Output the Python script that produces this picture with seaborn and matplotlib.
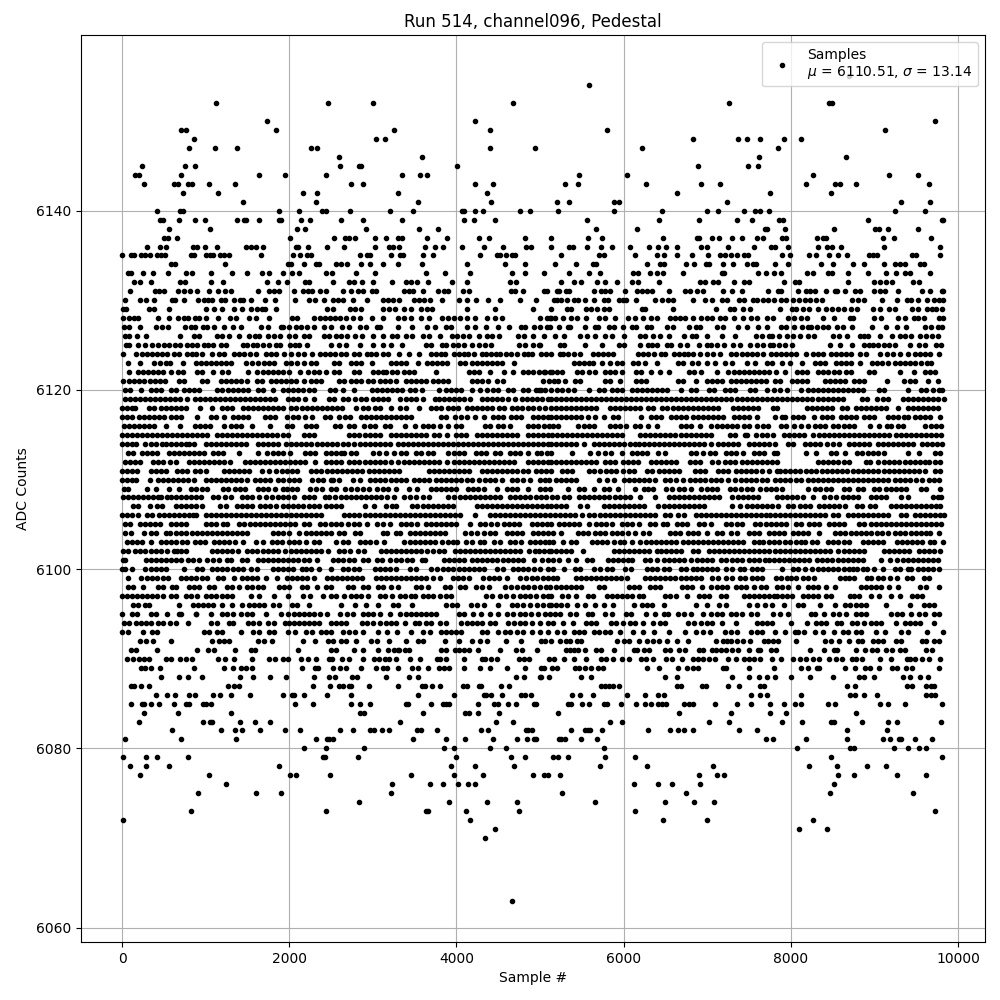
import matplotlib
matplotlib.use("Agg")
import matplotlib.pyplot as plt
import pandas as pd
import seaborn as sns

# samples, one list per ADC level
adc_6155 = [8697]
adc_6154 = [5581]
adc_6152 = [1128, 2467, 3005, 4678, 7264, 8458, 8494]
adc_6150 = [1737, 4224, 9724]
adc_6149 = [709, 769, 1845, 3256, 4403, 5795, 9127]
adc_6148 = [865, 3041, 3148, 6834, 7371, 7479, 7634, 7921, 8124]
adc_6147 = [805, 1116, 1379, 2263, 2335, 4403, 4941, 6225, 7849]
adc_6146 = [2598, 3591, 7622, 8661]
adc_6145 = [243, 757, 877, 2610, 2837, 2857, 4009, 6894, 7491, 7610]
adc_6144 = [159, 207, 709, 1642, 1953, 2443, 3351, 3567, 3650, 5461, 6034, 8267, 9174, 9521]
adc_6143 = [267, 626, 665, 793, 841, 1044, 1355, 2742, 2885, 4224, 4439, 5294, 5449, 6273, 6930, 7157, 8183, 8530, 8589, 8780, 9652]
adc_6142 = [733, 1152, 2168, 2335, 3304, 4367, 6643, 7754, 8482]
adc_6141 = [1451, 2323, 3543, 4415, 5198, 5342, 5879, 5939, 7240, 9318, 9664]
adc_6140 = [422, 697, 733, 1881, 2120, 2395, 2443, 2730, 3208, 3483, 4069, 4093, 4224, 4320, 4762, 4882, 5210, 5879, 6464, 7001, 7133, 7443, 7574, 7634, 7742, 9246, 9604]
adc_6139 = [458, 494, 685, 877, 996, 1379, 1463, 1487, 1642, 1881, 1901, 2144, 2252, 2622, 2885, 3351, 4093, 4213, 4463, 5557, 6428, 6906, 7360, 7539, 7861, 7909, 8924, 9804, 9819]
adc_6138 = [566, 1056, 2096, 2192, 2921, 3555, 3782, 5664, 6154, 7694, 7718, 7933, 8518, 9007, 9054, 9162, 9521]
adc_6137 = [506, 546, 661, 2012, 2538, 2670, 2718, 2789, 3028, 3160, 3304, 3344, 3650, 3889, 4272, 4392, 4822, 5127, 5569, 5736, 6476, 6876, 6900, 7061, 7145, 7300, 7419, 7598, 7670, 7897, 7945, 8315, 8387, 8423, 9103, 9234, 9676]
adc_6136 = [303, 458, 530, 853, 900, 996, 1136, 1486, 1546, 1605, 1689, 2084, 2108, 2227, 2454, 2658, 3028, 3196, 3244, 3315, 3621, 3741, 3837, 4069, 4332, 4555, 4826, 4886, 5127, 5342, 5390, 5557, 5723, 5855, 6070, 6309, 6408, 6512, 6643, 6930, 7001, 7252, 7562, 7765, 7813, 7968, 8327, 8435, 8494, 8601, 9115, 9784]
adc_6135 = [4, 107, 147, 231, 279, 339, 422, 466, 518, 828, 865, 1008, 1056, 1092, 1176, 1224, 1283, 1666, 2048, 2132, 2216, 2263, 2845, 2929, 2965, 3220, 3324, 3360, 3603, 3723, 4280, 4490, 4515, 4587, 4659, 4706, 5246, 5711, 5759, 6130, 6404, 6488, 6643, 6823, 7013, 7157, 7216, 7280, 7351, 7435, 7489, 7895, 7988, 8219, 8303, 8458, 8570, 8676, 8936, 8983, 9031, 9449, 9498, 9784]
adc_6134 = [590, 630, 1235, 1990, 2024, 2180, 2323, 2359, 2562, 2622, 2694, 2861, 2969, 3124, 3304, 3591, 4120, 4583, 4822, 5175, 5425, 5629, 5675, 6285, 6440, 6488, 6751, 6847, 6990, 7025, 7188, 7311, 7479, 7546, 7582, 7813, 7969, 8363, 8506, 8745, 8876, 9115, 9246, 9305, 9369, 9545, 9593]
adc_6133 = [76, 112, 255, 375, 554, 769, 841, 1068, 1319, 1498, 1678, 1762, 1929, 2036, 2120, 2443, 2514, 2801, 3028, 3635, 3862, 4164, 4670, 4825, 5043, 5342, 5590, 5712, 6112, 6172, 6313, 6396, 6476, 6715, 7180, 7204, 7607, 7702, 7802, 7881, 8195, 8267, 8442, 8498, 8689, 8920, 9143, 9260, 9365, 9420, 9660]
adc_6132 = [147, 219, 350, 697, 757, 1068, 1211, 1737, 1868, 1976, 2192, 2239, 2527, 2719, 2779, 2869, 3005, 3232, 3399, 3459, 3531, 3662, 3949, 4129, 4642, 4714, 5254, 5401, 5485, 5677, 5771, 5926, 6094, 6166, 6428, 6914, 6968, 7071, 7132, 7324, 7444, 7502, 7920, 8052, 8100, 8685, 9000, 9072, 9144, 9216, 9462, 9531]
adc_6131 = [100, 399, 447, 506, 673, 745, 817, 901, 1044, 1152, 1236, 1307, 1622, 1761, 1821, 1881, 2060, 2168, 2220, 2276, 2371, 2443, 2646, 2741, 2825, 2885, 2993, 3041, 3375, 3435, 3483, 3603, 3782, 3854, 3896, 4081, 4153, 4650, 4705, 4800, 5049, 5085, 5199, 5222, 5306, 5342, 5640, 5723, 5778, 5838, 6022, 6165, 6225, 6285, 6343, 6547, 6736, 6796, 6881, 6955, 7193, 7300, 7420, 7730, 7850, 7885, 8087, 8181, 8226, 8292, 8419, 8530, 8554, 8649, 8768, 8828, 8996, 9066, 9130, 9276, 9567, 9660, 9807, 9819]
adc_6130 = [40, 219, 291, 386, 602, 638, 745, 913, 984, 1032, 1080, 1188, 1236, 1343, 1415, 1451, 1546, 1714, 1833, 2072, 2240, 2312, 2419, 2527, 2587, 2647, 2766, 2932, 3124, 3184, 3244, 3316, 3495, 3555, 3615, 3687, 3826, 4033, 4129, 4236, 4380, 4523, 4764, 4948, 5162, 5199, 5246, 5318, 5401, 5450, 5533, 5640, 5761, 5807, 5949, 5990, 6028, 6142, 6380, 6464, 6525, 6595, 6835, 6977, 7061, 7181, 7240, 7384, 7444, 7550, 7600, 7665, 7724, 7793, 7885, 7945, 8025, 8100, 8175, 8233, 8301, 8372, 8733, 8805, 8876, 9092, 9266, 9390, 9439, 9516, 9634, 9717, 9771, 9819]
adc_6129 = [16, 52, 327, 386, 566, 1008, 1104, 1199, 1339, 1438, 1546, 1610, 1670, 1714, 1845, 2454, 2526, 2721, 2781, 2853, 3117, 3189, 3261, 3375, 3459, 3579, 3651, 3710, 4129, 4456, 4912, 5127, 5327, 5366, 5546, 5604, 5676, 5767, 5821, 6225, 6260, 6595, 7109, 7276, 7324, 7431, 7515, 7873, 8013, 8061, 8140, 8215, 8328, 8417, 8487, 8568, 8637, 8724, 8792, 8987, 9066, 9180, 9250, 9450, 9524, 9624, 9685, 9732, 9810]
adc_6128 = [16, 88, 147, 195, 434, 566, 673, 745, 793, 877, 925, 1008, 1152, 1295, 1367, 1522, 1606, 1761, 2036, 2096, 2299, 2371, 2431, 2491, 2551, 2610, 2682, 2766, 2850, 2989, 3124, 3295, 3375, 3455, 3575, 3674, 3822, 3895, 3975, 4047, 4129, 4218, 4366, 4463, 4550, 5000, 5079, 5119, 5134, 5175, 5270, 5370, 5447, 5549, 5700, 5780, 5900, 6050, 6130, 6231, 6330, 6400, 6550, 6615, 6670, 6730, 6825, 6920, 7000, 7060, 7150, 7210, 7320, 7427, 7520, 7600, 7710, 7790, 7969, 8040, 8120, 8198, 8380, 8520, 8702, 8738, 9000, 9078, 9279, 9363, 9475, 9520, 9595, 9770, 9820]
adc_6127 = [28, 88, 219, 411, 482, 554, 757, 829, 877, 972, 1020, 1104, 1223, 1331, 1427, 1667, 1750, 1895, 1930, 2000, 2075, 2145, 2215, 2296, 2410, 2494, 2630, 2718, 2846, 2921, 3049, 3080, 3300, 3467, 3647, 3743, 3871, 3930, 4121, 4216, 4350, 4496, 4634, 4777, 4824, 4925, 5000, 5083, 5122, 5227, 5334, 5364, 5535, 5662, 5692, 5820, 5880, 5995, 6100, 6145, 6275, 6330, 6520, 6590, 6780, 6860, 6912, 7116, 7192, 7365, 7470, 7607, 7720, 7888, 7947, 8040, 8130, 8211, 8247, 8318, 8390, 8440, 8550, 8620, 8735, 8976, 9140, 9266, 9375, 9600, 9680, 9760, 9805]
adc_6126 = [40, 88, 183, 291, 697, 865, 925, 1139, 1199, 1283, 1402, 1522, 1594, 1642, 1749, 1821, 1893, 2000, 2072, 2180, 2239, 2419, 2479, 2562, 2622, 2694, 2781, 2866, 3000, 3116, 3224, 3291, 3400, 3472, 3595, 3672, 3800, 3950, 4009, 4081, 4153, 4268, 4364, 4423, 4513, 4740, 4813, 4912, 5043, 5183, 5282, 5473, 5557, 5652, 5779, 5860, 6010, 6200, 6254, 6350, 6439, 6540, 6720, 6822, 6870, 7000, 7180, 7332, 7580, 7650, 7735, 7780, 7860, 7953, 8027, 8110, 8200, 8280, 8508, 8572, 8674, 8830, 8870, 8924, 9070, 9216, 9300, 9365, 9439, 9545, 9620, 9690, 9760]
adc_6125 = [52, 88, 195, 279, 362, 434, 506, 566, 638, 697, 781, 841, 901, 980, 1032, 1092, 1180, 1243, 1450, 1490, 1570, 1619, 1690, 1760, 1840, 1884, 2012, 2072, 2120, 2215, 2502, 2590, 2673, 2850, 3005, 3116, 3220, 3351, 3630, 3690, 3830, 3870, 3960, 4024, 4090, 4180, 4275, 4345, 4412, 4750, 4820, 4912, 4983, 5000, 5235, 5284, 5540, 5740, 5948, 6007, 6190, 6290, 6335, 6400, 6520, 6570, 6670, 6760, 6900, 6998, 7040, 7120, 7200, 7312, 7390, 7510, 7590, 7671, 7745, 7791, 7855, 7930, 8018, 8470, 8593, 8730, 8870, 8930, 8988, 9038, 9115, 9180, 9249, 9420, 9535, 9604, 9740, 9800]
adc_6124 = [16, 171, 243, 303, 362, 422, 482, 542, 615, 686, 781, 841, 889, 961, 1080, 1163, 1223, 1343, 1402, 1462, 1534, 1606, 1726, 1785, 1845, 1941, 2024, 2108, 2174, 2275, 2371, 2431, 2491, 2551, 2622, 2682, 2778, 2838, 2934, 2982, 3042, 3124, 3184, 3315, 3435, 3555, 3698, 3758, 3818, 3866, 3970, 4034, 4094, 4142, 4214, 4302, 4358, 4414, 4470, 4526, 4590, 4658, 4730, 4802, 4860, 4900, 5007, 5066, 5127, 5235, 5275, 5330, 5408, 5476, 5636, 5695, 5755, 5815, 5872, 6166, 6226, 6286, 6358, 6448, 6496, 6607, 6667, 6722, 6775, 6834, 6912, 7001, 7073, 7148, 7287, 7347, 7420, 7475, 7530, 7590, 7665, 7760, 7820, 7881, 7942, 8000, 8060, 8185, 8270, 8328, 8386, 8482, 8542, 8601, 8661, 8720, 8828, 8900, 9067, 9150, 9222, 9304, 9400, 9485, 9545, 9605, 9664, 9771]
adc_6123 = [75, 215, 386, 457, 525, 577, 724, 883, 943, 1003, 1063, 1122, 1182, 1242, 1301, 1480, 1560, 1620, 1699, 1759, 1819, 1958, 2018, 2097, 2177, 2256, 2316, 2535, 2595, 2735, 2795, 2855, 2985, 3212, 3272, 3331, 3391, 3538, 3650, 3710, 3769, 3829, 3889, 4048, 4108, 4187, 4247, 4307, 4366, 4426, 4486, 4545, 4685, 5401, 5460, 5520, 5580, 5639, 5739, 5838, 5918, 5978, 6117, 6177, 6256, 6404, 6654, 6714, 6814, 6893, 6993, 7092, 7211, 7291, 7470, 7570, 7709, 7769, 7889, 7988, 8135, 8287, 8347, 8407, 8545, 8605, 8665, 8724, 8824, 8968, 9027, 9087, 9166, 9246, 9306, 9366, 9425, 9485, 9554, 9630, 9672]
adc_6122 = [87, 187, 251, 311, 371, 431, 490, 590, 670, 730, 897, 957, 1090, 1190, 1270, 1510, 1610, 1680, 1740, 1800, 1860, 1920, 2000, 2130, 2220, 2290, 2350, 2436, 2536, 2596, 2776, 2836, 3006, 3066, 3126, 3156, 3226, 3286, 3376, 3436, 3496, 3756, 4146, 4206, 4266, 4406, 4566, 4676, 4796, 4856, 4916, 4986, 5046, 5060, 5120, 5142, 5202, 5262, 5442, 5502, 5582, 5662, 5782, 5842, 5902, 5980, 6142, 6202, 6322, 6432, 6542, 6782, 6842, 6922, 7122, 7252, 7322, 7382, 7442, 7502, 7562, 7622, 7682, 7742, 7821, 7929, 8070, 8130, 8190, 8330, 8380, 8440, 8520, 8580, 8660, 8720, 8940, 9000, 9310, 9470, 9600, 9660, 9720]
adc_6121 = [16, 88, 148, 208, 268, 328, 388, 448, 508, 680, 740, 960, 1020, 1180, 1240, 1300, 1360, 1420, 1490, 1610, 1670, 1780, 1840, 1900, 1960, 2020, 2080, 2180, 2260, 2320, 2380, 2600, 2650, 2740, 2800, 2860, 2940, 3000, 3080, 3140, 3200, 3280, 3400, 3460, 3520, 3580, 3640, 3720, 3780, 3840, 3900, 4180, 4240, 4300, 4380, 4480, 4560, 5040, 5110, 5162, 5220, 5300, 5420, 5480, 5782, 5842, 5960, 6150, 6210, 6270, 6650, 6710, 6870, 7000, 7060, 7120, 7180, 7280, 7340, 7400, 7460, 7520, 7580, 7640, 7700, 7809, 7869, 8010, 8070, 8130, 8190, 8410, 8470, 8530, 8590, 8650, 8760, 8820, 8880, 9150, 9350, 9430, 9490, 9640, 9760]
adc_6120 = [30, 90, 222, 340, 400, 460, 590, 650, 740, 800, 860, 920, 1130, 1190, 1270, 1330, 1390, 1450, 1510, 1630, 1690, 1800, 1930, 1990, 2050, 2110, 2170, 2230, 2290, 2490, 2550, 2640, 2770, 2990, 3050, 3110, 3170, 3230, 3290, 3350, 3440, 3500, 3590, 3790, 3880, 3940, 4000, 4060, 4180, 4280, 4370, 4440, 4500, 4620, 4680, 4790, 4850, 4950, 4990, 5010, 5060, 5130, 5200, 5260, 5340, 5400, 5580, 5700, 5760, 5860, 5920, 5980, 6100, 6160, 6220, 6280, 6340, 6400, 6460, 6520, 6680, 6810, 6870, 7020, 7080, 7210, 7270, 7330, 7510, 7570, 7720, 7800, 7870, 7950, 8120, 8200, 8260, 8320, 8380, 8440, 8500, 8560, 8620, 8680, 8740, 8800, 8860, 9060, 9120, 9400, 9560, 9620, 9700, 9770, 9810]
adc_6119 = [30, 90, 150, 210, 270, 330, 390, 450, 510, 570, 630, 690, 780, 870, 930, 990, 1050, 1110, 1170, 1230, 1290, 1350, 1410, 1470, 1530, 1590, 1650, 1710, 1770, 1830, 1990, 2050, 2110, 2190, 2300, 2480, 2540, 2640, 2700, 2790, 2860, 2920, 3000, 3060, 3120, 3180, 3320, 3400, 3460, 3520, 3600, 3740, 3790, 3850, 3910, 3970, 4030, 4090, 4160, 4300, 4360, 4420, 4480, 4540, 4620, 4700, 4780, 4840, 4900, 4960, 5020, 5090, 5130, 5190, 5250, 5310, 5370, 5430, 5490, 5550, 5610, 5670, 5730, 5790, 5850, 5910, 5970, 6030, 6090, 6150, 6210, 6270, 6330, 6390, 6450, 6510, 6570, 6630, 6690, 6750, 6810, 6870, 6930, 6990, 7050, 7110, 7170, 7230, 7290, 7350, 7410, 7470, 7530, 7590, 7650, 7710, 7770, 7830, 7890, 7950, 8010, 8070, 8130, 8190, 8250, 8320, 8380, 8440, 8500, 8560, 8620, 8850, 8910, 9030, 9100, 9160, 9340, 9400, 9460, 9520, 9580, 9640, 9700, 9760, 9831]
adc_6118 = [0, 60, 120, 160, 320, 380, 470, 530, 590, 650, 710, 770, 930, 1070, 1190, 1250, 1310, 1450, 1510, 1570, 1630, 1690, 1750, 1810, 1870, 1930, 2020, 2080, 2150, 2210, 2270, 2330, 2390, 2450, 2510, 2570, 2630, 2800, 2880, 2940, 3030, 3090, 3220, 3320, 3400, 3550, 3690, 3750, 3820, 3900, 3960, 4020, 4120, 4180, 4240, 4300, 4360, 4420, 4510, 4570, 4670, 4730, 4780, 4860, 4920, 4990, 5060, 5130, 5190, 5250, 5310, 5370, 5430, 5490, 5550, 5610, 5670, 5840, 5900, 5960, 6020, 6080, 6140, 6200, 6290, 6350, 6460, 6520, 6590, 6650, 6710, 6770, 6830, 6890, 6950, 7010, 7070, 7130, 7310, 7370, 7430, 7490, 7550, 7610, 7790, 7830, 8190, 8250, 8310, 8370, 8430, 8490, 8610, 8670, 8780, 8840, 8900, 8960, 9020, 9080, 9140, 9280, 9400, 9460, 9520, 9580, 9640, 9700, 9760]
adc_6117 = [0, 60, 120, 200, 260, 320, 380, 440, 500, 590, 650, 710, 900, 1060, 1120, 1220, 1330, 1390, 1450, 1510, 1710, 1770, 1830, 1970, 2050, 2110, 2190, 2270, 2430, 2490, 2600, 2670, 2730, 2860, 2920, 2980, 3040, 3100, 3160, 3220, 3280, 3340, 3400, 3460, 3820, 3880, 3980, 4060, 4130, 4220, 4330, 4440, 4500, 4560, 4650, 4710, 4770, 4920, 4980, 5040, 5100, 5130, 5190, 5250, 5310, 5370, 5430, 5490, 5570, 5660, 5760, 5870, 5930, 6210, 6330, 6390, 6450, 6570, 6630, 6690, 6750, 6830, 6890, 6950, 7010, 7070, 7130, 7190, 7320, 7380, 7440, 7500, 7590, 7810, 7890, 7930, 8020, 8090, 8150, 8280, 8370, 8430, 8490, 8600, 8660, 8720, 8780, 8880, 8940, 9000, 9160, 9220, 9280, 9350, 9400, 9490, 9550, 9610, 9670, 9780]
adc_6116 = [20, 80, 140, 200, 260, 320, 380, 520, 690, 870, 930, 990, 1050, 1220, 1300, 1360, 1420, 1560, 1770, 1970, 2030, 2200, 2260, 2320, 2550, 2610, 2720, 2780, 2890, 2960, 3020, 3140, 3200, 3380, 3500, 3600, 3660, 3720, 3800, 3900, 4000, 4060, 4340, 4400, 4500, 4560, 4640, 4860, 4920, 4980, 5050, 5110, 5160, 5220, 5450, 5530, 5590, 5650, 5840, 5900, 5960, 6030, 6130, 6200, 6290, 6400, 6690, 6750, 6810, 6910, 7040, 7120, 7180, 7240, 7300, 7360, 7440, 7500, 7590, 7670, 7730, 7880, 7940, 8040, 8120, 8210, 8290, 8350, 8410, 8510, 8570, 8630, 8690, 8750, 8950, 9060, 9150, 9200, 9280, 9340, 9600, 9680, 9740, 9800]
adc_6115 = [0, 60, 120, 180, 240, 300, 360, 420, 480, 540, 600, 660, 720, 780, 840, 900, 960, 1010, 1130, 1190, 1250, 1310, 1370, 1430, 1490, 1550, 1610, 1670, 1730, 1790, 1850, 1920, 1980, 2180, 2240, 2300, 2720, 2780, 2840, 2900, 2960, 3020, 3080, 3220, 3280, 3340, 3400, 3460, 3520, 3580, 3640, 3730, 3790, 3890, 3990, 4050, 4110, 4240, 4300, 4360, 4420, 4480, 4540, 4600, 4660, 4720, 4860, 4920, 4980, 5040, 5100, 5140, 5200, 5260, 5320, 5380, 5440, 5500, 5560, 5620, 5680, 5740, 5800, 5860, 5920, 5980, 6200, 6260, 6320, 6380, 6440, 6500, 6560, 6620, 6680, 6740, 6800, 6860, 6920, 6980, 7050, 7270, 7330, 7450, 7480, 7580, 7660, 7720, 7790, 7920, 7980, 8040, 8100, 8160, 8260, 8340, 8400, 8460, 8520, 8580, 8640, 8700, 8760, 8820, 8880, 8940, 9000, 9060, 9120, 9180, 9260, 9320, 9380, 9440, 9500, 9560, 9620, 9680, 9740, 9800]
adc_6114 = [0, 60, 120, 170, 280, 340, 400, 480, 520, 590, 650, 710, 770, 800, 860, 1000, 1060, 1120, 1180, 1240, 1300, 1360, 1420, 1480, 1620, 1680, 1740, 1800, 1860, 1960, 2020, 2080, 2140, 2200, 2260, 2330, 2390, 2450, 2510, 2570, 2640, 2700, 2780, 2850, 2910, 2970, 3030, 3090, 3150, 3210, 3300, 3360, 3420, 3480, 3540, 3600, 3660, 3720, 3780, 3840, 3900, 3960, 4020, 4080, 4140, 4200, 4260, 4320, 4380, 4440, 4500, 4560, 4620, 4680, 4740, 4800, 4860, 4920, 4980, 5040, 5100, 5130, 5190, 5250, 5310, 5370, 5430, 5520, 5640, 5700, 5760, 5820, 5880, 5950, 6010, 6070, 6130, 6180, 6240, 6300, 6360, 6420, 6480, 6540, 6600, 6660, 6720, 6780, 6840, 6900, 6960, 7050, 7130, 7190, 7250, 7310, 7370, 7500, 7560, 7620, 7680, 7740, 7810, 7970, 8030, 8170, 8230, 8290, 8350, 8430, 8500, 8580, 8690, 8750, 8810, 8870, 8930, 9040, 9100, 9160, 9220, 9280, 9340, 9400, 9460, 9570, 9630, 9690, 9750, 9810]
adc_6113 = [75, 130, 240, 300, 360, 420, 560, 620, 680, 740, 800, 860, 920, 980, 1090, 1150, 1210, 1400, 1620, 1730, 1800, 1860, 1930, 2010, 2190, 2250, 2310, 2440, 2500, 2560, 2620, 2660, 2740, 2800, 3000, 3070, 3160, 3250, 3340, 3400, 3520, 3580, 3660, 3720, 3900, 3970, 4030, 4090, 4230, 4290, 4350, 4460, 4520, 4640, 4700, 4760, 4850, 4960, 5010, 5080, 5130, 5380, 5600, 5690, 5780, 5850, 5980, 6100, 6160, 6220, 6280, 6410, 6490, 6800, 6860, 6950, 7030, 7090, 7220, 7280, 7340, 7430, 7560, 7620, 7680, 7800, 7830, 8180, 8300, 8480, 8540, 8650, 8790, 8850, 8920, 8980, 9040, 9110, 9400, 9530, 9720, 9780]
adc_6112 = [30, 90, 150, 210, 370, 430, 490, 570, 640, 800, 860, 920, 980, 1040, 1100, 1160, 1220, 1290, 1470, 1530, 1590, 1650, 1710, 1770, 1830, 1890, 1950, 2010, 2070, 2130, 2190, 2310, 2440, 2500, 2560, 2620, 2720, 2780, 2840, 2900, 2960, 3030, 3090, 3150, 3220, 3300, 3370, 3430, 3490, 3550, 3610, 3670, 3730, 3790, 3890, 3970, 4030, 4090, 4150, 4210, 4270, 4330, 4390, 4450, 4510, 4570, 4630, 4690, 4850, 4920, 4980, 5040, 5090, 5130, 5190, 5250, 5310, 5370, 5430, 5490, 5550, 5610, 5670, 5780, 5840, 5900, 5990, 6050, 6110, 6170, 6330, 6390, 6450, 6510, 6570, 6630, 6790, 6850, 6910, 7060, 7130, 7210, 7270, 7330, 7410, 7470, 7530, 7590, 7650, 7710, 7770, 7830, 8320, 8380, 8450, 8510, 8570, 8630, 8690, 8900, 8950, 9040, 9110, 9170, 9230, 9290, 9360, 9420, 9480, 9540, 9600, 9650, 9720, 9780]
adc_6111 = [0, 60, 120, 180, 350, 410, 470, 520, 660, 720, 780, 870, 930, 1000, 1220, 1280, 1340, 1400, 1460, 1520, 1670, 1760, 1840, 1910, 1970, 2030, 2090, 2260, 2320, 2380, 2450, 2510, 2570, 2630, 2690, 2750, 2810, 2870, 2950, 3010, 3070, 3130, 3190, 3250, 3310, 3670, 3730, 3790, 3850, 3910, 3970, 4030, 4090, 4150, 4300, 4370, 4430, 4490, 4550, 4610, 4670, 4730, 4790, 4850, 4950, 5010, 5070, 5130, 5260, 5320, 5380, 5590, 5650, 5720, 5790, 5850, 5910, 5990, 6060, 6120, 6280, 6340, 6420, 6480, 6540, 6600, 6660, 6850, 6910, 6970, 7130, 7190, 7250, 7340, 7400, 7460, 7520, 7580, 7650, 7740, 7830, 7870, 7930, 7990, 8050, 8110, 8180, 8240, 8300, 8370, 8430, 8490, 8550, 8610, 8670, 8740, 8800, 8860, 8920, 8980, 9040, 9110, 9170, 9230, 9290, 9350, 9410, 9470, 9530, 9600, 9720, 9780]
adc_6110 = [0, 60, 120, 170, 330, 430, 490, 550, 610, 670, 730, 790, 860, 1000, 1060, 1120, 1180, 1240, 1300, 1360, 1420, 1490, 1590, 1650, 1710, 1770, 1860, 1930, 2000, 2060, 2120, 2270, 2340, 2400, 2500, 2520, 2600, 2760, 2850, 2970, 3030, 3090, 3150, 3220, 3280, 3340, 3400, 3490, 3550, 3610, 3670, 3760, 3820, 3880, 3940, 4000, 4060, 4120, 4180, 4270, 4340, 4400, 4460, 4550, 4670, 4730, 4790, 4880, 5000, 5060, 5110, 5190, 5250, 5310, 5370, 5430, 5700, 5800, 5890, 6000, 6060, 6120, 6180, 6240, 6300, 6370, 6490, 6550, 6630, 6710, 6790, 6850, 6910, 6970, 7050, 7110, 7170, 7250, 7330, 7400, 7460, 7520, 7580, 7650, 7720, 7810, 7870, 7930, 7990, 8060, 8120, 8200, 8260, 8320, 8380, 8440, 8500, 8560, 8620, 8680, 8740, 8800, 8860, 8920, 8980, 9040, 9100, 9160, 9240, 9300, 9360, 9420, 9500, 9570, 9650, 9710, 9770]
adc_6109 = [25, 70, 300, 400, 560, 680, 830, 880, 950, 1020, 1210, 1270, 1350, 1410, 1470, 1620, 1680, 1740, 1830, 1920, 1970, 2030, 2090, 2250, 2320, 2390, 2500, 2560, 2670, 2740, 2810, 2880, 2950, 3050, 3120, 3180, 3280, 3430, 3530, 3690, 3750, 3810, 3870, 3930, 4000, 4140, 4200, 4260, 4330, 4490, 4600, 4660, 4720, 4850, 5000, 5060, 5120, 5330, 5470, 5530, 5640, 5760, 5830, 5930, 6140, 6240, 6290, 6350, 6510, 6580, 6660, 6720, 6800, 6920, 7000, 7060, 7120, 7270, 7330, 7400, 7480, 7540, 7630, 7700, 7760, 7820, 7900, 8200, 8290, 8350, 8420, 8480, 8640, 8700, 8800, 8860, 9000, 9060, 9140, 9200, 9260, 9320, 9380, 9560, 9620, 9780]
adc_6108 = [10, 70, 130, 190, 250, 310, 370, 430, 460, 540, 580, 640, 700, 760, 820, 880, 940, 1090, 1150, 1230, 1300, 1440, 1500, 1560, 1640, 1720, 1790, 1870, 1930, 1990, 2060, 2180, 2240, 2300, 2430, 2480, 2550, 2620, 2680, 2740, 2800, 2860, 2920, 2980, 3040, 3100, 3170, 3250, 3370, 3450, 3520, 3600, 3670, 3900, 3970, 4040, 4100, 4160, 4220, 4280, 4340, 4400, 4460, 4520, 4640, 4700, 4760, 4820, 4880, 4950, 5010, 5070, 5140, 5200, 5290, 5350, 5460, 5520, 5580, 5640, 5700, 5760, 5820, 5900, 5960, 6020, 6080, 6200, 6380, 6540, 6600, 6660, 6720, 6780, 6840, 6900, 6960, 7020, 7080, 7140, 7300, 7370, 7430, 7490, 7550, 7610, 7830, 7900, 7950, 8010, 8070, 8150, 8260, 8400, 8470, 8540, 8620, 8680, 8740, 8800, 8960, 9020, 9080, 9140, 9320, 9400, 9700, 9760, 9800]
adc_6107 = [130, 190, 330, 420, 480, 640, 700, 760, 820, 880, 960, 1170, 1240, 1380, 1440, 1500, 1560, 1650, 1710, 1770, 1840, 1920, 1980, 2040, 2100, 2160, 2230, 2290, 2350, 2436, 2500, 2560, 2620, 2910, 3010, 3160, 3230, 3280, 3470, 3530, 3600, 3660, 3720, 3780, 3840, 3900, 3960, 4240, 4300, 4360, 4420, 4480, 4540, 4600, 4660, 4720, 4780, 4840, 4900, 4960, 5020, 5080, 5130, 5190, 5250, 5310, 5480, 5560, 5760, 5820, 5880, 5940, 6000, 6060, 6120, 6180, 6240, 6410, 6480, 6540, 6600, 6660, 6720, 6780, 6840, 6900, 6960, 7300, 7390, 7470, 7530, 7590, 7650, 7710, 7770, 7850, 7960, 8020, 8110, 8170, 8230, 8340, 8400, 8460, 8520, 8580, 8650, 8790, 8850, 8950, 9010, 9200, 9260, 9320, 9380, 9440, 9500, 9560, 9620, 9680, 9740, 9780]
adc_6106 = [0, 60, 120, 190, 300, 360, 440, 500, 560, 620, 680, 740, 800, 850, 890, 1000, 1060, 1120, 1180, 1240, 1300, 1360, 1420, 1480, 1540, 1600, 1660, 1720, 1780, 1840, 1900, 1960, 2020, 2080, 2140, 2200, 2260, 2320, 2380, 2660, 2720, 2780, 2840, 2900, 2960, 3020, 3080, 3140, 3200, 3260, 3320, 3380, 3440, 3500, 3560, 3620, 3680, 3740, 3800, 3860, 3920, 3980, 4040, 4220, 4400, 4460, 4520, 4580, 4640, 4700, 4760, 4820, 4880, 4940, 5000, 5060, 5122, 5180, 5240, 5300, 5360, 5420, 5500, 5580, 5640, 5720, 5780, 5840, 5900, 5960, 6020, 6080, 6140, 6200, 6260, 6320, 6370, 6500, 6560, 6650, 6720, 6860, 6920, 6980, 7040, 7100, 7160, 7220, 7280, 7340, 7400, 7460, 7520, 7580, 7640, 7700, 7750, 7810, 7870, 7930, 7990, 8050, 8110, 8170, 8230, 8290, 8350, 8410, 8500, 8560, 8680, 8740, 8800, 8860, 8920, 8980, 9040, 9100, 9160, 9320, 9380, 9490, 9550, 9610, 9670, 9730, 9790, 9830]
adc_6105 = [30, 90, 210, 270, 330, 390, 450, 590, 650, 710, 770, 1000, 1060, 1120, 1210, 1260, 1400, 1460, 1530, 1590, 1650, 1710, 1770, 1830, 1890, 1950, 2010, 2070, 2180, 2240, 2370, 2430, 2500, 2560, 2620, 2700, 2770, 2830, 2930, 3050, 3120, 3200, 3340, 3400, 3460, 3530, 3640, 3700, 3760, 3820, 3880, 3940, 4000, 4160, 4280, 4340, 4410, 4480, 4570, 4630, 4690, 4750, 4900, 4960, 5020, 5080, 5130, 5230, 5290, 5350, 5410, 5470, 5590, 5670, 5730, 5790, 5860, 5980, 6040, 6100, 6180, 6320, 6380, 6470, 6520, 6640, 6700, 6760, 6900, 6960, 7040, 7230, 7290, 7350, 7420, 7570, 7630, 7700, 7760, 7820, 7880, 7940, 8060, 8120, 8220, 8280, 8340, 8460, 8520, 8580, 8640, 8820, 8880, 8960, 9020, 9080, 9140, 9200, 9260, 9320, 9380, 9440, 9500, 9560, 9620, 9680, 9740, 9800]
adc_6104 = [30, 110, 260, 350, 410, 520, 570, 640, 700, 760, 840, 900, 960, 1020, 1080, 1130, 1190, 1250, 1310, 1370, 1430, 1490, 1800, 1860, 1930, 2000, 2120, 2200, 2260, 2320, 2380, 2440, 2500, 2590, 2660, 2790, 2850, 3120, 3170, 3280, 3330, 3440, 3500, 3560, 3620, 3680, 3740, 3800, 3860, 4100, 4170, 4240, 4330, 4400, 4460, 4600, 4660, 4720, 4780, 4920, 4980, 5040, 5100, 5160, 5250, 5450, 5510, 5570, 5660, 5720, 5780, 5860, 5920, 5980, 6050, 6130, 6230, 6300, 6550, 6610, 6670, 6770, 6830, 6890, 7000, 7120, 7180, 7290, 7350, 7500, 7560, 7620, 7740, 7800, 7860, 7920, 8030, 8090, 8150, 8210, 8340, 8530, 8590, 8650, 8720, 8780, 8840, 8900, 8960, 9030, 9090, 9160, 9240, 9300, 9360, 9440, 9500, 9560, 9620, 9670, 9770]
adc_6103 = [60, 120, 180, 240, 340, 460, 520, 580, 640, 720, 780, 870, 930, 990, 1100, 1160, 1220, 1280, 1350, 1450, 1600, 1680, 1790, 1850, 1910, 2000, 2060, 2120, 2200, 2300, 2360, 2560, 2640, 2700, 2850, 2900, 2960, 3040, 3130, 3370, 3440, 3500, 3560, 3620, 3680, 3740, 3830, 3900, 3960, 4010, 4110, 4190, 4280, 4330, 4450, 4520, 4640, 4700, 4770, 4880, 4940, 5000, 5060, 5110, 5150, 5270, 5370, 5430, 5620, 5680, 5740, 5800, 5890, 5960, 6010, 6100, 6200, 6270, 6330, 6390, 6450, 6510, 6570, 6630, 6710, 6770, 6830, 6890, 6950, 7010, 7070, 7130, 7190, 7250, 7310, 7370, 7430, 7560, 7620, 7670, 7740, 7800, 7860, 7930, 7990, 8060, 8120, 8170, 8250, 8310, 8450, 8510, 8570, 8630, 8690, 8860, 8920, 8980, 9040, 9100, 9270, 9330, 9390, 9450, 9510, 9570, 9660, 9710, 9825]
adc_6102 = [15, 70, 160, 220, 280, 340, 400, 460, 540, 620, 660, 710, 770, 1080, 1140, 1200, 1260, 1320, 1390, 1490, 1550, 1610, 1680, 1750, 1810, 1870, 1950, 2020, 2080, 2140, 2200, 2260, 2320, 2380, 2460, 2590, 2650, 2730, 2820, 2890, 3100, 3160, 3220, 3280, 3340, 3400, 3460, 3520, 3580, 3650, 3720, 3790, 3850, 3980, 4040, 4100, 4160, 4220, 4280, 4340, 4400, 4460, 4520, 4580, 4640, 4700, 4760, 4870, 4940, 4990, 5050, 5110, 5130, 5190, 5250, 5310, 5370, 5510, 5880, 5940, 6000, 6060, 6120, 6180, 6240, 6300, 6400, 6450, 6510, 6570, 6630, 6690, 6830, 6890, 7020, 7080, 7140, 7200, 7260, 7320, 7380, 7440, 7500, 7560, 7620, 7680, 7740, 7810, 7870, 7930, 7990, 8050, 8110, 8170, 8230, 8290, 8350, 8410, 8470, 8570, 8630, 8690, 8750, 8810, 8880, 9110, 9170, 9230, 9290, 9350, 9410, 9530, 9590, 9650, 9710, 9790]
adc_6101 = [15, 40, 290, 350, 410, 470, 530, 590, 650, 710, 790, 850, 920, 1020, 1090, 1160, 1250, 1300, 1430, 1500, 1620, 1680, 1740, 1800, 1860, 1920, 1980, 2040, 2100, 2180, 2240, 2330, 2520, 2580, 2640, 2710, 2780, 2880, 2940, 3050, 3110, 3200, 3280, 3340, 3410, 3470, 3590, 3620, 3850, 3910, 3970, 4030, 4090, 4180, 4240, 4300, 4360, 4420, 4480, 4560, 4620, 4680, 4740, 4800, 4930, 5020, 5090, 5150, 5230, 5340, 5430, 5560, 5620, 5810, 5870, 5930, 5990, 6050, 6100, 6260, 6320, 6400, 6480, 6540, 6600, 6660, 6720, 6800, 6880, 6940, 7000, 7060, 7160, 7230, 7300, 7360, 7420, 7500, 7560, 7620, 7690, 7740, 7800, 7860, 7920, 7980, 8040, 8100, 8160, 8220, 8310, 8370, 8430, 8490, 8560, 8620, 8680, 8740, 8800, 8860, 9080, 9190, 9270, 9340, 9400, 9460, 9520, 9580, 9640, 9700, 9760]
adc_6100 = [0, 40, 120, 280, 340, 400, 460, 530, 740, 900, 960, 1080, 1130, 1200, 1250, 1330, 1390, 1450, 1540, 1610, 1810, 1860, 1920, 1980, 2040, 2150, 2200, 2260, 2350, 2500, 2640, 2700, 2770, 2830, 3030, 3080, 3140, 3200, 3280, 3440, 3520, 3700, 3770, 3840, 3900, 3960, 4030, 4090, 4150, 4210, 4270, 4330, 4490, 4560, 4680, 4740, 4800, 4860, 4930, 5000, 5090, 5150, 5290, 5420, 5480, 5640, 5720, 5800, 5860, 6020, 6090, 6280, 6340, 6400, 6480, 6540, 6680, 6740, 6830, 6880, 6940, 7000, 7060, 7120, 7220, 7300, 7390, 7440, 7540, 7600, 7660, 7890, 8020, 8090, 8170, 8250, 8330, 8390, 8450, 8510, 8570, 8630, 8700, 8740, 8790, 8860, 8910, 8990, 9100, 9240, 9300, 9400, 9440, 9520, 9580, 9640, 9700, 9770]
adc_6099 = [75, 230, 300, 360, 420, 490, 550, 700, 760, 820, 880, 960, 1020, 1150, 1210, 1340, 1430, 1490, 1550, 1610, 1720, 1850, 1970, 2030, 2090, 2150, 2210, 2290, 2450, 2510, 2570, 2630, 2690, 2750, 2810, 2870, 3040, 3100, 3160, 3220, 3280, 3340, 3400, 3460, 3520, 3580, 3640, 3720, 3800, 3960, 4020, 4080, 4150, 4320, 4390, 4450, 4510, 4600, 4760, 4830, 4900, 4960, 5030, 5100, 5150, 5200, 5430, 5490, 5550, 5610, 5670, 5730, 5790, 5850, 5910, 5970, 6040, 6250, 6320, 6380, 6440, 6500, 6560, 6620, 6680, 6740, 6800, 6860, 6920, 7060, 7130, 7230, 7300, 7390, 7450, 7530, 7590, 7650, 7820, 7880, 7950, 8000, 8060, 8150, 8210, 8280, 8590, 8650, 8700, 8760, 8910, 8960, 9040, 9100, 9190, 9270, 9390, 9450, 9590, 9650]
adc_6098 = [70, 130, 250, 430, 490, 600, 650, 800, 860, 920, 1040, 1100, 1250, 1310, 1400, 1500, 1560, 1620, 1680, 1880, 1940, 2000, 2150, 2210, 2330, 2440, 2500, 2700, 2760, 2880, 2940, 3060, 3120, 3220, 3300, 3520, 3580, 3660, 3860, 3920, 4040, 4100, 4230, 4300, 4390, 4580, 4650, 4730, 4800, 4860, 4930, 5000, 5070, 5122, 5190, 5250, 5310, 5370, 5430, 5490, 5700, 5760, 6060, 6120, 6180, 6320, 6380, 6440, 6700, 6760, 6820, 6940, 7040, 7120, 7180, 7240, 7340, 7400, 7460, 7560, 7640, 7700, 7830, 7900, 7960, 8090, 8200, 8260, 8320, 8420, 8530, 8840, 8900, 8960, 9020, 9080, 9170, 9280, 9550, 9620, 9770]
adc_6097 = [0, 60, 120, 180, 240, 300, 360, 420, 490, 580, 640, 760, 830, 900, 1000, 1060, 1120, 1190, 1260, 1310, 1540, 1640, 1820, 1980, 2160, 2250, 2400, 2500, 2560, 2660, 2740, 2800, 2860, 2940, 3090, 3150, 3230, 3330, 3390, 3460, 3500, 3600, 3660, 3720, 3800, 3880, 3940, 4350, 4430, 4520, 4590, 4680, 4760, 4820, 4880, 4950, 5030, 5100, 5130, 5260, 5330, 5430, 5570, 5630, 5800, 5860, 5920, 5980, 6040, 6100, 6180, 6230, 6500, 6560, 6630, 6760, 6900, 6960, 7020, 7170, 7230, 7440, 7500, 7560, 7620, 7680, 7740, 7800, 7830, 7890, 7950, 8010, 8140, 8200, 8260, 8320, 8420, 8480, 8710, 8760, 8820, 8960, 9050, 9200, 9300, 9450, 9510, 9570]
adc_6096 = [130, 190, 270, 320, 680, 850, 910, 970, 1030, 1090, 1200, 1310, 1430, 1520, 1580, 1640, 1700, 1800, 1880, 2030, 2090, 2230, 2620, 2790, 2920, 3060, 3240, 3300, 3470, 3880, 3950, 4010, 4170, 4240, 4330, 4500, 4660, 4730, 4800, 4880, 4960, 5040, 5110, 5130, 5190, 5250, 5320, 5440, 5540, 5660, 5760, 5870, 6120, 6220, 6280, 6340, 6480, 6860, 7000, 7140, 7220, 7500, 7590, 7690, 7770, 7920, 8080, 8150, 8350, 8530, 8650, 8710, 8780, 8840, 8900, 9140, 9420, 9590, 9650, 9710]
adc_6095 = [0, 120, 180, 340, 400, 540, 680, 710, 880, 890, 1060, 1200, 1250, 1330, 1420, 1490, 1560, 1720, 1900, 1990, 2060, 2120, 2180, 2240, 2300, 2370, 2446, 2610, 2690, 2760, 2880, 2940, 3000, 3080, 3200, 3330, 3400, 3460, 3520, 3580, 3640, 3700, 3760, 4030, 4090, 4200, 4290, 4400, 4500, 4600, 4680, 4760, 4820, 4890, 4980, 5060, 5120, 5180, 5240, 5360, 5430, 5570, 5620, 5780, 5860, 6030, 6090, 6270, 6370, 6480, 6530, 6650, 6720, 6800, 6950, 7050, 7120, 7180, 7280, 7340, 7410, 7520, 7600, 7790, 7870, 7970, 8240, 8290, 8400, 8500, 8580, 8660, 8780, 8840, 8900, 9200, 9270, 9330, 9440, 9530, 9610, 9710, 9770]
adc_6094 = [20, 80, 170, 230, 290, 350, 430, 490, 570, 650, 790, 1060, 1130, 1280, 1330, 1510, 1570, 1640, 1750, 1820, 1950, 2000, 2060, 2120, 2180, 2240, 2300, 2360, 2500, 2560, 2620, 2680, 2870, 2930, 3000, 3090, 3160, 3220, 3280, 3390, 3500, 3550, 3630, 3690, 3800, 3880, 4060, 4130, 4190, 4250, 4310, 4400, 4460, 4620, 4690, 4760, 4820, 4900, 5000, 5090, 5160, 5270, 5390, 5550, 5610, 5670, 5850, 5910, 5990, 6070, 6130, 6230, 6350, 6430, 6500, 6770, 6840, 6920, 7000, 7060, 7180, 7340, 7590, 7650, 7720, 7780, 8000, 8190, 8300, 8360, 8420, 8550, 8600, 8730, 8790, 8880, 8960, 9020, 9080, 9260, 9360, 9430, 9490, 9550, 9710]
adc_6093 = [0, 70, 250, 360, 420, 980, 1040, 1140, 1200, 1420, 1570, 1640, 1760, 1820, 1990, 2070, 2200, 2270, 2380, 2440, 2500, 2640, 2720, 2790, 2880, 3060, 3170, 3290, 3460, 3600, 3680, 3810, 3870, 3930, 4000, 4060, 4310, 4370, 4500, 4580, 4640, 4720, 4800, 4900, 5000, 5100, 5200, 5290, 5400, 5470, 5530, 5640, 5700, 5780, 5840, 5960, 6110, 6230, 6360, 6540, 6730, 6860, 6950, 7030, 7210, 7290, 7360, 7520, 7600, 7660, 7810, 7930, 8050, 8090, 8160, 8290, 8380, 8520, 8620, 8680, 8780, 8840, 9020, 9130, 9320, 9400, 9630, 9820]
adc_6092 = [219, 291, 375, 590, 1080, 1163, 1223, 1283, 1630, 1702, 1797, 2168, 2311, 2466, 2526, 2622, 2682, 2801, 2981, 3053, 3196, 3391, 3543, 3603, 3866, 4025, 4188, 4284, 4368, 4593, 4772, 5007, 5055, 5127, 5234, 5315, 5361, 5442, 5488, 5926, 6006, 6062, 6186, 6280, 6354, 6427, 6521, 6634, 6772, 7105, 7184, 7241, 7287, 7356, 7424, 7509, 7675, 7730, 7786, 7842, 8065, 8410, 8482, 8578, 8697, 8805, 8855, 8984, 9044, 9104, 9260, 9320, 9569, 9619, 9713, 9772]
adc_6091 = [110, 171, 422, 900, 1032, 1104, 1355, 1546, 1594, 2108, 2495, 2556, 2772, 2887, 3064, 3185, 3256, 3296, 3315, 3379, 3427, 3815, 3875, 3982, 4035, 4093, 4153, 4252, 4517, 4714, 4778, 4968, 5307, 5354, 5400, 5449, 5537, 5664, 5724, 5880, 6120, 6160, 6240, 6300, 6500, 6560, 6665, 6731, 6900, 6950, 7060, 7110, 7170, 7230, 7300, 7370, 7500, 7610, 7630, 7760, 7820, 8230, 8400, 8520, 8550, 8780, 8890, 8974, 9030, 9140, 9210, 9300, 9370, 9620, 9690]
adc_6090 = [64, 135, 207, 267, 327, 530, 590, 697, 769, 841, 1151, 1235, 1339, 1558, 1761, 1833, 1929, 1988, 2144, 2227, 2323, 2479, 2514, 2634, 2718, 2877, 3017, 3077, 3148, 3188, 3278, 3447, 3567, 3771, 3806, 3878, 4093, 4308, 4344, 4416, 4487, 4746, 4806, 4866, 5103, 5163, 5283, 5403, 5545, 5725, 5785, 5870, 5975, 6060, 6205, 6265, 6355, 6510, 6575, 6700, 6825, 6895, 6955, 7015, 7090, 7245, 7340, 7435, 7495, 7555, 7635, 7770, 7885, 8030, 8115, 8180, 8264, 8340, 8460, 8535, 8615, 8730, 8785, 8855, 9065, 9200, 9390, 9425, 9490, 9570, 9650, 9785]
adc_6089 = [230, 279, 350, 458, 857, 1224, 1331, 1427, 1481, 1559, 2156, 2311, 2347, 2526, 2610, 2673, 2861, 3041, 3119, 3170, 3303, 3471, 3543, 3655, 3788, 3848, 3908, 4085, 4286, 4396, 4601, 4821, 5009, 5051, 5148, 5198, 5413, 5463, 5543, 5611, 5691, 5751, 6285, 6428, 6655, 6755, 6835, 6895, 7190, 7230, 7500, 7800, 8124, 8210, 8310, 8337, 8645, 8769, 8885, 8945, 9050, 9215, 9275, 9380, 9450, 9770]
adc_6088 = [470, 685, 785, 952, 1410, 1570, 1770, 1960, 2300, 2480, 2550, 2754, 2815, 3162, 3435, 3545, 4710, 4804, 5002, 5006, 5106, 5485, 5613, 6491, 6635, 7300, 7500, 7624, 7710, 7810, 8000, 8224, 8500, 8810, 8870, 9000, 9340, 9420, 9540, 9640]
adc_6087 = [112, 147, 231, 327, 1271, 1343, 1402, 2287, 2490, 2597, 2645, 2717, 2741, 2957, 3304, 3591, 3627, 3710, 3806, 4081, 4129, 4267, 4291, 4530, 4625, 5724, 5772, 5820, 5870, 5940, 6643, 6690, 6940, 6990, 7250, 7380, 7630, 7674, 8673, 8770, 9389, 9449, 9620, 9680, 9710]
adc_6086 = [410, 541, 637, 805, 873, 1092, 1175, 1307, 1534, 1929, 2036, 2060, 2179, 2455, 2742, 3542, 3973, 4332, 4356, 4418, 4542, 4774, 4825, 4895, 5380, 5473, 5628, 6034, 6261, 6416, 6488, 7527, 7634, 7718, 8125, 8709, 8769, 8873, 9027, 9617, 9681, 9726]
adc_6085 = [112, 243, 267, 350, 446, 626, 769, 805, 972, 1008, 1068, 2072, 2287, 2741, 2849, 2969, 3399, 3423, 3698, 3841, 3873, 3905, 4260, 4447, 4495, 4622, 4718, 4924, 4954, 5340, 5375, 5497, 5585, 5765, 5797, 5964, 6142, 6252, 6326, 6411, 6459, 6501, 6727, 6786, 6835, 7097, 7360, 7525, 7749, 7921, 8046, 8117, 8446, 8530, 9067, 9162, 9366, 9804]
adc_6084 = [267, 673, 1307, 2849, 2897, 3602, 4105, 4153, 4253, 4507, 5210, 6667, 7288, 7754, 7945, 8780]
adc_6083 = [207, 972, 1056, 1080, 1414, 1594, 1773, 3327, 4475, 4680, 5831, 5975, 7025, 7264, 7897, 8137, 8482, 8518, 8852, 9162, 9270, 9795]
adc_6082 = [602, 1187, 1354, 1438, 1654, 1953, 2132, 2610, 2766, 2969, 3017, 3113, 3196, 3530, 3578, 3770, 4296, 4380, 4830, 4850, 4900, 5366, 5533, 5569, 5593, 5736, 6297, 6560, 6645, 6716, 6835, 7384, 7599, 8673, 9151]
adc_6081 = [40, 709, 1367, 2323, 2455, 2479, 2526, 3483, 3878, 4105, 4440, 4723, 4843, 4924, 4948, 5227, 5246, 5300, 5486, 5676, 7706, 7790, 8183, 8673, 9103, 9191, 9294, 9316, 9490, 9690]
adc_6080 = [2180, 2443, 2897, 3854, 3966, 4403, 4594, 5760, 8076, 8708, 8760, 9234, 9400, 9532, 9616]
adc_6079 = [16, 291, 422, 793, 2407, 2427, 2825, 3998, 4654, 4822, 5151, 5211, 5330, 5772, 6130, 8482, 9807]
adc_6078 = [100, 291, 565, 1881, 3935, 4224, 4690, 5712, 6285, 7073, 8219, 8554, 8912, 9136]
adc_6077 = [219, 1044, 2012, 2084, 2490, 3459, 3973, 4320, 4917, 5048, 5096, 5234, 6906, 7121, 7204, 8566, 8757, 9271, 9622]
adc_6076 = [1247, 3232, 3686, 3842, 4021, 4141, 4224, 6118, 6416, 6583, 6918, 8518]
adc_6075 = [913, 1606, 1905, 3220, 5258, 6751, 8470, 9461]
adc_6074 = [2837, 3913, 4364, 4726, 5652, 6500, 6840, 7085]
adc_6073 = [829, 2443, 3638, 3662, 4119, 4750, 6130, 9724]
adc_6072 = [16, 4165, 6476, 7001, 8267]
adc_6071 = [4463, 8100, 8434]
adc_6070 = [4344]
adc_6063 = [4666]

level_numbers = [
    6155, 6154, 6152, 6150, 6149, 6148, 6147, 6146, 6145, 6144, 6143, 6142, 6141, 6140,
    6139, 6138, 6137, 6136, 6135, 6134, 6133, 6132, 6131, 6130, 6129, 6128, 6127, 6126,
    6125, 6124, 6123, 6122, 6121, 6120, 6119, 6118, 6117, 6116, 6115, 6114, 6113, 6112,
    6111, 6110, 6109, 6108, 6107, 6106, 6105, 6104, 6103, 6102, 6101, 6100, 6099, 6098,
    6097, 6096, 6095, 6094, 6093, 6092, 6091, 6090, 6089, 6088, 6087, 6086, 6085, 6084,
    6083, 6082, 6081, 6080, 6079, 6078, 6077, 6076, 6075, 6074, 6073, 6072, 6071, 6070, 6063,
]

records = []
for level in level_numbers:
    for s in globals()[f"adc_{level}"]:
        records.append((s, level))
df = pd.DataFrame(records, columns=["sample", "adc"])

fig, ax = plt.subplots(figsize=(10, 10), dpi=100)
sns.lineplot(data=df, x="sample", y="adc", ax=ax, estimator=None, sort=False, color="black",
             marker=".", linestyle="", markersize=6, markeredgecolor="black", markeredgewidth=1,
             label="Samples\n$\\mu$ = 6110.51, $\\sigma$ = 13.14")
ax.set_axisbelow(True)
ax.grid(True)
ax.set_title("Run 514, channel096, Pedestal")
ax.set_xlabel("Sample #")
ax.set_ylabel("ADC Counts")
ax.legend(loc="upper right")
fig.subplots_adjust(left=0.081, right=0.985, top=0.965, bottom=0.058)
plt.savefig("out.png", dpi=100)
